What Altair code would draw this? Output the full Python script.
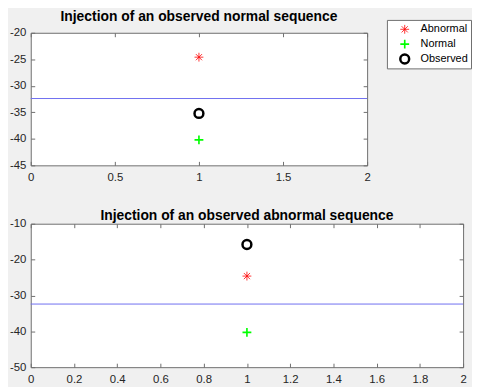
import altair as alt
import pandas as pd

# ---- data ----
series = ["Abnormal", "Normal", "Observed"]
x_pos = [1, 1, 1]
top_values = [-24.6, -40.2, -35.2]
bottom_values = [-24.6, -40.3, -15.8]
threshold = [-32.4]
titles = ["Injection of an observed normal sequence",
          "Injection of an observed abnormal sequence"]
top_x_ticks = [0, 0.5, 1, 1.5, 2]
top_y_ticks = [-45, -40, -35, -30, -25, -20]
bottom_x_ticks = [0, 0.2, 0.4, 0.6, 0.8, 1, 1.2, 1.4, 1.6, 1.8, 2]
bottom_y_ticks = [-50, -40, -30, -20, -10]

# ---- styles ----
colors = ["#ff0000", "#00ff00", "#000000"]
stroke_widths = [0.8, 2.5, 2.5]
ASTERISK = "M-1,0L1,0M0,-1L0,1M-0.7,-0.7L0.7,0.7M-0.7,0.7L0.7,-0.7"
PLUS = "M-1,0L1,0M0,-1L0,1"
shapes = [ASTERISK, PLUS, "circle"]
FONT = "Arial"
AX = "#6e6e6e"
LINE = "#6e6ef0"


def axis(orient, ticks, labels=True):
    kw = dict(orient=orient, values=ticks, offset=-4, tickSize=4, domain=False,
              grid=False, title=None, labels=labels, tickColor=AX,
              labelFlush=False, labelOverlap=False,
              labelExpr="toString(datum.value)")
    if orient == "bottom":
        kw["labelPadding"] = 6
    elif orient == "left":
        kw["labelPadding"] = 5
    else:
        kw["maxExtent"] = 0
        kw["minExtent"] = 0
    return alt.Axis(**kw)


def panel(values, xticks, yticks, ydom, width, height, title, show_legend):
    df = pd.DataFrame({"x": x_pos, "y": values, "series": series})
    xs = alt.Scale(domain=[0, 2], nice=False, zero=False)
    ys = alt.Scale(domain=ydom, nice=False, zero=False)
    if show_legend:
        legend = alt.Legend(title=None, orient="none", legendX=360, legendY=-13,
                            padding=3, strokeColor=AX, fillColor="white",
                            labelFont=FONT, labelFontSize=11, labelColor="black",
                            symbolSize=80, symbolStrokeWidth=1.8, rowPadding=2,
                            clipHeight=13, gridAlign="all",
                            symbolOffset=9, labelOffset=10, cornerRadius=0)
    else:
        legend = None
    rule = alt.Chart(pd.DataFrame({"t": threshold})).mark_rule(strokeWidth=1).encode(
        y=alt.Y("t:Q", scale=ys, axis=None),
        color=alt.value(LINE))
    points = alt.Chart(df).mark_point(size=80, opacity=1, filled=False).encode(
        x=alt.X("x:Q", scale=xs, axis=axis("bottom", xticks)),
        y=alt.Y("y:Q", scale=ys, axis=axis("left", yticks)),
        color=alt.Color("series:N", scale=alt.Scale(domain=series, range=colors),
                        legend=legend),
        shape=alt.Shape("series:N", scale=alt.Scale(domain=series, range=shapes),
                        legend=legend),
        strokeWidth=alt.StrokeWidth("series:N",
                                    scale=alt.Scale(domain=series, range=stroke_widths),
                                    legend=None),
    )
    frame = alt.Chart(df).mark_point(opacity=0).encode(
        x=alt.X("x:Q", scale=xs, axis=axis("top", xticks, labels=False)),
        y=alt.Y("y:Q", scale=ys, axis=axis("right", yticks, labels=False)),
    )
    return alt.layer(rule, points, frame).resolve_axis(
        x="independent", y="independent").properties(
        width=width, height=height,
        title=alt.Title(title, font=FONT, fontSize=14, fontWeight="bold",
                        color="black", offset=-5, anchor="middle"))


top = panel(top_values, top_x_ticks, top_y_ticks, [-45, -20], 340, 134, titles[0], True)
bottom = panel(bottom_values, bottom_x_ticks, bottom_y_ticks, [-50, -10], 437, 145,
               titles[1], False)

chart = alt.vconcat(top, bottom, spacing=25).resolve_scale(
    color="independent", shape="independent", strokeWidth="independent"
).resolve_legend(
    color="independent", shape="independent"
).configure(
    background="#f0f0f0", padding={"left": 0, "top": 0, "right": 0, "bottom": 0}
).configure_view(
    stroke=AX, strokeWidth=1, fill="white"
).configure_axis(
    labelFont=FONT, labelFontSize=11.5, labelColor="#262626"
)

chart.save("out.html", embed_options={"renderer": "svg", "actions": False})
